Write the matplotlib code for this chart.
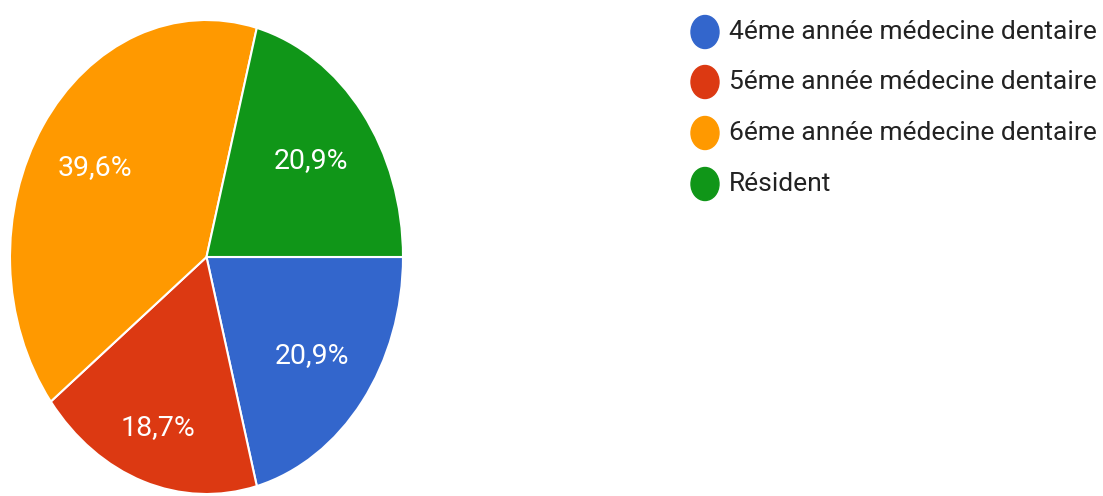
import matplotlib
matplotlib.use("Agg")
import numpy as np
import matplotlib.pyplot as plt
from matplotlib.patches import Ellipse

categories = [
    "4éme année médecine dentaire",
    "5éme année médecine dentaire",
    "6éme année médecine dentaire",
    "Résident",
]
shares = [20.9, 18.7, 39.6, 20.9]
colors = ["#3366CC", "#DC3912", "#FF9900", "#109618"]

# radial placement of the percentage labels, per slice
label_radius = [0.68, 0.76, 0.68, 0.67]

W, H = 1103, 496
fig = plt.figure(figsize=(W / 100, H / 100), dpi=100)
fig.patch.set_facecolor("white")

# Pie area (pixel box, stretched vertically)
left, right, top, bottom = 10, 403, 20, 494
ax = fig.add_axes([left / W, (H - bottom) / H, (right - left) / W, (bottom - top) / H])
wedges, texts, autotexts = ax.pie(
    shares,
    colors=colors,
    startangle=0,
    counterclock=False,
    autopct=lambda p: f"{p:.1f}%".replace(".", ","),
    pctdistance=0.68,
    wedgeprops=dict(edgecolor="white", linewidth=1.5),
    textprops=dict(color="white", fontsize=20.5, family="Roboto"),
)
for w, t, r in zip(wedges, autotexts, label_radius):
    mid = np.deg2rad((w.theta1 + w.theta2) / 2)
    t.set_position((r * np.cos(mid), r * np.sin(mid)))
ax.set_aspect("auto")
ax.set_xlim(-1, 1)
ax.set_ylim(-1, 1)
ax.axis("off")

# Legend drawn manually with elliptical markers
legend_y = [32, 82, 133, 184]
for name, col, y in zip(categories, colors, legend_y):
    fig.add_artist(Ellipse((705 / W, 1 - y / H), 28 / W, 33 / H,
                           transform=fig.transFigure, color=col))
    fig.text(729 / W, 1 - y / H, name, fontsize=19, family="Roboto",
             color="#222222", va="center", ha="left")

fig.savefig("out.png", dpi=100, facecolor="white")
